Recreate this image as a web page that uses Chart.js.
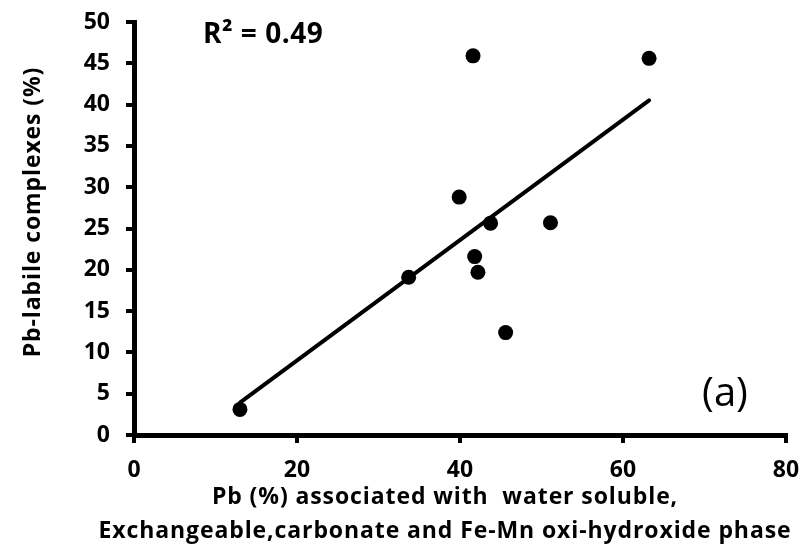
<!DOCTYPE html>
<html>
<head>
<meta charset="utf-8">
<script src="https://cdn.jsdelivr.net/npm/chart.js@4/dist/chart.umd.min.js"></script>
<style>
  html, body { margin: 0; padding: 0; background: #ffffff; }
  #wrap { width: 804px; height: 547px; }
</style>
</head>
<body>
<div id="wrap"><canvas id="c" width="804" height="547"></canvas></div>
<script>
// Sample values: Pb fraction in the labile phases (x) vs Pb-labile complexes (y)
const pbAssociated = [13.0, 33.7, 39.9, 41.6, 41.8, 42.2, 43.75, 45.6, 51.1, 63.2];
const pbLabile     = [3.1, 19.1, 28.8, 45.9, 21.6, 19.7, 25.65, 12.4, 25.7, 45.6];

const xTicks = [0, 20, 40, 60, 80];
const yTicks = [0, 5, 10, 15, 20, 25, 30, 35, 40, 45, 50];

const yAxisTitle = 'Pb-labile complexes (%)';
const xAxisTitle = ['Pb (%) associated with  water soluble,',
                    'Exchangeable,carbonate and Fe-Mn oxi-hydroxide phase'];
const panelLabel = '(a)';

// Ordinary least-squares fit of the points
function linearFit(xs, ys) {
  const n = xs.length;
  const mx = xs.reduce((a, b) => a + b, 0) / n;
  const my = ys.reduce((a, b) => a + b, 0) / n;
  let sxy = 0, sxx = 0, syy = 0;
  for (let i = 0; i < n; i++) {
    const dx = xs[i] - mx, dy = ys[i] - my;
    sxy += dx * dy; sxx += dx * dx; syy += dy * dy;
  }
  const slope = sxy / sxx;
  return { slope, intercept: my - slope * mx, r2: (sxy * sxy) / (sxx * syy) };
}

const fit = linearFit(pbAssociated, pbLabile);
const xMin = Math.min(...pbAssociated), xMax = Math.max(...pbAssociated);
const trend = [xMin, xMax].map(x => ({ x, y: fit.intercept + fit.slope * x }));
const r2Label = 'R\u00B2 = ' + fit.r2.toFixed(2);

const FONT = '"Open Sans"';

// Axis titles and annotations
const textLayer = {
  id: 'textLayer',
  afterDraw(chart) {
    const ctx = chart.ctx;
    ctx.save();
    ctx.fillStyle = '#000';
    ctx.textBaseline = 'alphabetic';

    // R² annotation
    ctx.font = `bold 28px ${FONT}`;
    ctx.letterSpacing = '0.5px';
    ctx.textAlign = 'left';
    ctx.fillText(r2Label, 203, 43);

    // panel label
    ctx.letterSpacing = '0px';
    ctx.font = `40px ${FONT}`;
    ctx.textAlign = 'center';
    ctx.fillText(panelLabel, 725, 406);

    // y axis title
    ctx.font = `bold 23px ${FONT}`;
    ctx.letterSpacing = '0.9px';
    ctx.save();
    ctx.translate(40, 212);
    ctx.rotate(-Math.PI / 2);
    ctx.textAlign = 'center';
    ctx.fillText(yAxisTitle, 0, 0);
    ctx.restore();

    // x axis title (two lines)
    ctx.textAlign = 'center';
    ctx.fillText(xAxisTitle[0], 445, 504);
    ctx.fillText(xAxisTitle[1], 445, 538);
    ctx.restore();
  }
};

const axisCommon = {
  type: 'linear',
  grid: {
    display: true,
    drawOnChartArea: false,
    drawTicks: true,
    tickLength: 8,
    color: '#000',
    lineWidth: 4
  },
  border: { display: true, color: '#000', width: 5 },
  ticks: {
    color: '#000',
    font: { family: 'Open Sans', size: 23, weight: 'bold' }
  }
};

new Chart(document.getElementById('c'), {
  data: {
    datasets: [
      {
        type: 'scatter',
        label: 'samples',
        data: pbAssociated.map((x, i) => ({ x, y: pbLabile[i] })),
        backgroundColor: '#000',
        borderColor: '#000',
        pointRadius: 7.5,
        pointHoverRadius: 7.5,
        borderWidth: 0
      },
      {
        type: 'line',
        label: 'linear fit',
        data: trend,
        borderColor: '#000',
        borderWidth: 4,
        borderCapStyle: 'round',
        pointRadius: 0,
        fill: false
      }
    ]
  },
  options: {
    responsive: false,
    animation: false,
    devicePixelRatio: 1,
    layout: { padding: { left: 0, right: 18, top: 22, bottom: 0 } },
    plugins: { legend: { display: false }, tooltip: { enabled: false } },
    scales: {
      x: {
        ...axisCommon,
        position: 'bottom',
        min: 0, max: 80,
        ticks: { ...axisCommon.ticks, padding: 14, maxRotation: 0 },
        afterBuildTicks(scale) { scale.ticks = xTicks.map(v => ({ value: v })); },
        afterFit(scale) {
          scale.height = 112;
          scale.paddingLeft = 0;
          scale.paddingRight = 0;
        }
      },
      y: {
        ...axisCommon,
        position: 'left',
        min: 0, max: 50,
        ticks: { ...axisCommon.ticks, padding: 16 },
        afterBuildTicks(scale) { scale.ticks = yTicks.map(v => ({ value: v })); },
        afterFit(scale) {
          scale.width = 134;
          scale.paddingTop = 0;
          scale.paddingBottom = 0;
        }
      }
    }
  },
  plugins: [textLayer]
});
</script>
</body>
</html>
